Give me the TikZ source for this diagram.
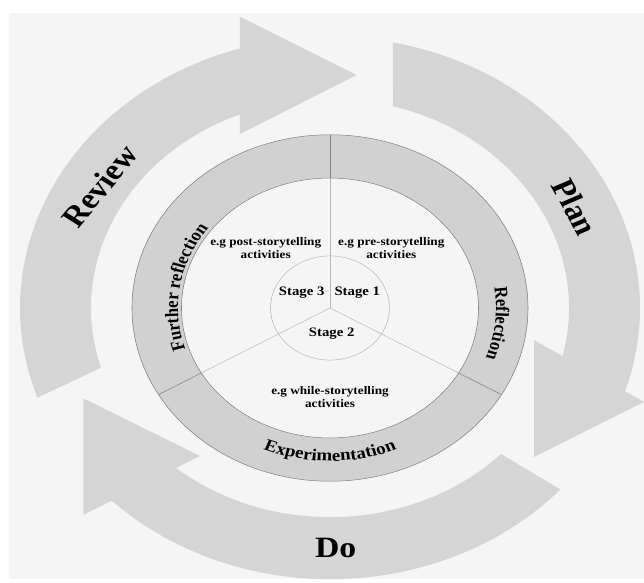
\documentclass[tikz,border=0pt]{standalone}
\usepackage{fontspec}
\setmainfont{Liberation Serif}
\usetikzlibrary{decorations.text}

\definecolor{paper}{gray}{0.96}
\definecolor{band}{gray}{0.835}
\definecolor{ringgray}{gray}{0.82}
\definecolor{ringedge}{gray}{0.5}
\definecolor{spokegray}{gray}{0.72}

\newcommand\biglabel{\fontsize{24}{24}\selectfont\bfseries}
\newcommand\ringlabel{\fontsize{13.5}{14}\selectfont\bfseries}
\newcommand\stagelabel{\fontsize{10.5}{11}\selectfont\bfseries}
\newcommand\notelabel{\fontsize{9.4}{10.8}\selectfont\bfseries}

\tikzset{
        arrowband/.style = {fill=band},
        ring/.style = {fill=ringgray, draw=ringedge, line width=0.4pt},
        spoke/.style = {draw=spokegray, line width=0.4pt},
        stage/.style = {font=\stagelabel, inner sep=1pt},
        note/.style = {font=\notelabel, align=center, inner sep=1pt},
        cyclelabel/.style = {font=\biglabel, inner sep=1pt},
        along/.style = {decorate, decoration={text along path, text align=center,
            text={|\ringlabel|#1}}}
    }

\begin{document}
\begin{tikzpicture}[x=0.025cm, y=0.025cm]
            \useasboundingbox (-330,-275) rectangle (314,308);
            \fill[paper] (-321,-271) rectangle (314,295);

            % everything below is drawn round and squeezed a little in height
            \begin{scope}[transform canvas={yscale=0.875}]

                % outer cycle: review -> plan -> do
                \fill[arrowband] (199.3:310) arc[start angle=199.3, end angle=106, radius=310]
                    -- (111:239) arc[start angle=111, end angle=196.6, radius=239] -- cycle;
                \fill[arrowband] (-90,332.9) -- (26.7,266.3) -- (-90,198.9) -- cycle;

                \fill[arrowband] (78.3:310) arc[start angle=78.3, end angle=-18.5, radius=310]
                    -- (-14:239) arc[start angle=-14, end angle=74.7, radius=239] -- cycle;
                \fill[arrowband] (204,-36.6) -- (314,-107.4) -- (204,-170.3) -- cycle;

                \fill[arrowband] (-42:310) arc[start angle=-42, end angle=-136, radius=310]
                    -- (-131.5:239) arc[start angle=-131.5, end angle=-44.3, radius=239] -- cycle;
                \fill[arrowband] (-246.7,-103.2) -- (-130,-169.1) -- (-246.7,-236.6) -- cycle;

                \node[cyclelabel, rotate=54] (review) at (-230.4,139.5) {Review};
                \node[cyclelabel, rotate=-64] (plan) at (245,115.4) {Plan};
                \node[cyclelabel] (do) at (5.7,-274.3) {Do};

                % ring and stages
                \filldraw[ring] (0,0) circle[radius=198];
                \filldraw[fill=paper, draw=ringedge, line width=0.4pt] (0,0) circle[radius=148.5];
                \draw[spoke] (0,0) circle[radius=59.5];
                \foreach \a in {90,210,330} {
                    \draw[spoke] (0,0) -- (\a:148.5);
                    \draw[draw=ringedge, line width=0.4pt] (\a:148.5) -- (\a:198);
                };

                \path[along=Experimentation] (-130:175) arc[start angle=-130, end angle=-50, radius=175];
                \path[along=Further reflection] (211:152) arc[start angle=211, end angle=130, radius=152];
                \path[along=Reflection] (24:166) arc[start angle=24, end angle=-36, radius=166];

                \node[stage] (stage3) at (-28.3,17.5) {Stage 3};
                \node[stage] (stage1) at (27.3,17.5) {Stage 1};
                \node[stage] (stage2) at (1.7,-29.7) {Stage 2};

                \node[note] (post) at (-64.3,68.2) {e.g post-storytelling\\activities};
                \node[note] (pre) at (61.3,68.2) {e.g pre-storytelling\\activities};
                \node[note] (while) at (0,-101.4) {e.g while-storytelling\\activities};
            \end{scope}
        \end{tikzpicture}
\end{document}
